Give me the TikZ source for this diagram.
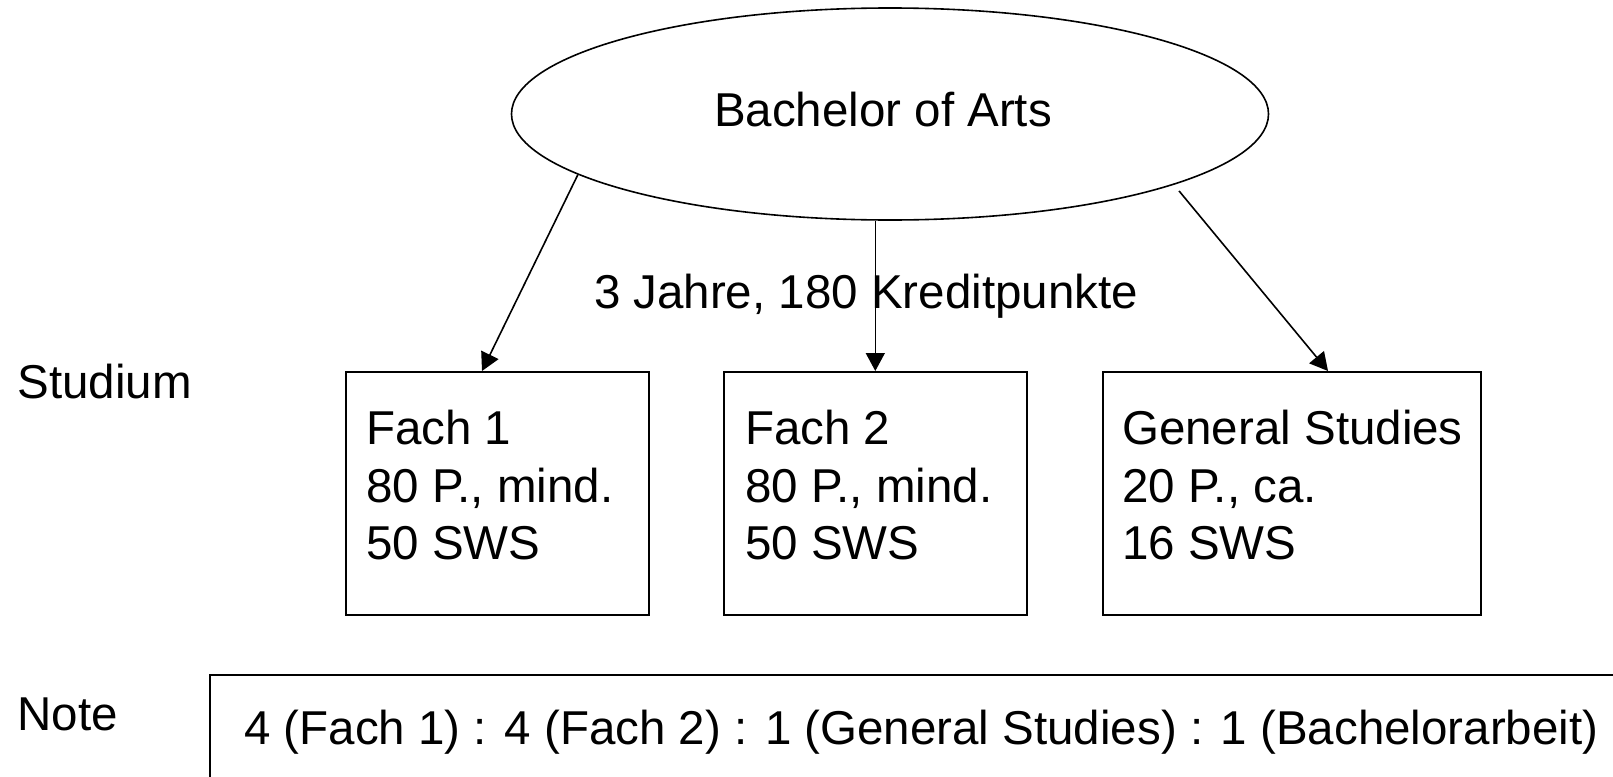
\documentclass[tikz,border=0pt]{standalone}
\usepackage{fontspec}
\setmainfont{Liberation Sans}
\usetikzlibrary{shapes.geometric,arrows.meta}
\begin{document}
\begin{tikzpicture}[x=1pt,y=-1pt,
  every node/.style={font=\fontsize{47.5}{57.5}\selectfont, inner sep=0pt},
  line/.style={line width=1.6pt},
  arr/.style={line, -{Triangle[length=18pt,width=19pt]}},
  fachbox/.style={draw, line, minimum height=243pt, anchor=north west},
  fachtxt/.style={align=left, anchor=north west}
]
\useasboundingbox (0,0) rectangle (1613,776);
\clip (0,0) rectangle (1613,776);
\node[draw, line, ellipse, minimum width=757pt, minimum height=212pt] (bach) at (890,114) {};
\node (bachtxt) at (883,110) {Bachelor of Arts};
\node (dauer) at (866,296) {3 Jahre, 180 Kreditpunkte};
\node[anchor=west] (studium) at (17.5,382) {Studium};
\node[anchor=west] (note) at (17.5,714) {Note};
\node[fachbox, minimum width=303pt] (box1) at (345,371) {};
\node[fachbox, minimum width=303pt] (box2) at (723,371) {};
\node[fachbox, minimum width=378pt] (box3) at (1102,371) {};
\node[fachtxt] (txt1) at (366,410) {Fach 1\\80 P., mind.\\50 SWS};
\node[fachtxt] (txt2) at (745,410) {Fach 2\\80 P., mind.\\50 SWS};
\node[fachtxt] (txt3) at (1122,410) {General Studies\\20 P., ca.\\16 SWS};
\node[draw, line, anchor=north west, minimum width=1500pt, minimum height=150pt] (notebox) at (209,674) {};
\node[anchor=west] (notetxt) at (244,732.5) {4 (Fach 1) : 4 (Fach 2) : 1 (General Studies) : 1 (Bachelorarbeit)};
\draw[arr] (bach.191.2) -- ([xshift=137pt]box1.north west);
\draw[arr] (box2.north |- bach.south) -- (box2.north);
\draw[arr, shorten <=8pt] (bach.346.4) -- ([xshift=226pt]box3.north west);
\end{tikzpicture}
\end{document}
